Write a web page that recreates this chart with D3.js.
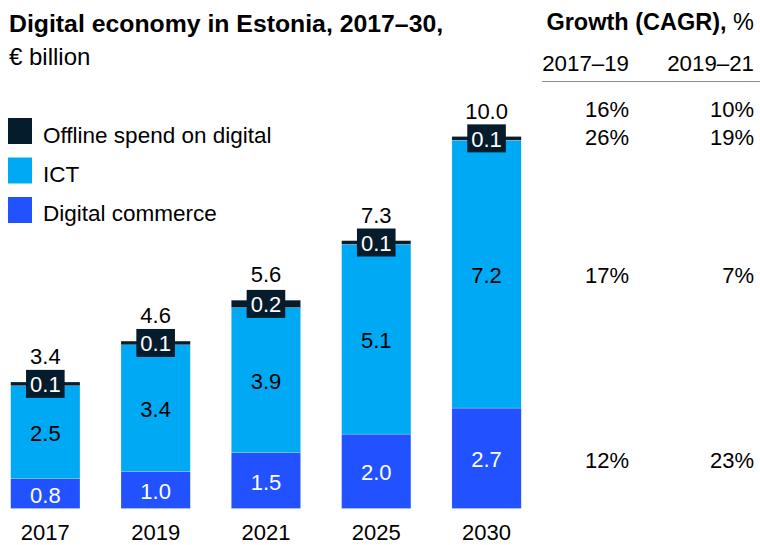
<!DOCTYPE html>
<html>
<head>
<meta charset="utf-8">
<script src="https://cdn.jsdelivr.net/npm/d3@7"></script>
<style>
  html, body { margin: 0; padding: 0; background: #fff; }
  svg { display: block; font-family: "Liberation Sans", Arial, sans-serif; }
</style>
</head>
<body>
<svg id="chart" width="760" height="545"></svg>
<script>
// Digital economy in Estonia, € billion
const years = ["2017", "2019", "2021", "2025", "2030"];
const digitalCommerce = [0.8, 1.0, 1.5, 2.0, 2.7];
const ict = [2.5, 3.4, 3.9, 5.1, 7.2];
const offline = [0.1, 0.1, 0.2, 0.1, 0.1];
const totals = [3.4, 4.6, 5.6, 7.3, 10.0];

// Growth (CAGR) rows: total, offline, ICT, digital commerce
const cagrPeriods = ["2017–19", "2019–21"];
const cagrTotal = ["16%", "10%"];
const cagrOffline = ["26%", "19%"];
const cagrIct = ["17%", "7%"];
const cagrCommerce = ["12%", "23%"];

const seriesNames = ["Offline spend on digital", "ICT", "Digital commerce"];
const colors = { offline: "#051C2C", ict: "#00A9F4", commerce: "#2251FF" };

const svg = d3.select("#chart");

const rows = years.map((y, i) => ({
  year: y, commerce: digitalCommerce[i], ict: ict[i], offline: offline[i], total: totals[i]
}));
const keys = ["commerce", "ict", "offline"];
const stacked = d3.stack().keys(keys)(rows);

const x = d3.scaleBand().domain(years).range([10.7, 521.2]).paddingInner(0.372).paddingOuter(0);
const y = d3.scaleLinear().domain([0, 10]).range([508.5, 136.5]);

const numFont = 22;

// Title
svg.append("text").attr("x", 9).attr("y", 32)
  .style("font-size", "24.8px").style("font-weight", "bold").attr("fill", "#000")
  .text("Digital economy in Estonia, 2017–30,");
svg.append("text").attr("x", 9).attr("y", 65)
  .style("font-size", "24px").attr("fill", "#000").text("€ billion");

// Legend
const legendKeys = ["offline", "ict", "commerce"];
const legend = svg.append("g");
legendKeys.forEach((k, i) => {
  legend.append("rect").attr("x", 8).attr("y", 118 + i * 39.5).attr("width", 24).attr("height", 26)
    .attr("fill", colors[k]);
  legend.append("text").attr("x", 43).attr("y", 142.5 + i * 39.2)
    .style("font-size", "22.5px").attr("fill", "#000").text(seriesNames[i]);
});

// Bars
const layers = svg.append("g").selectAll("g").data(stacked).join("g")
  .attr("fill", d => colors[d.key]);
layers.selectAll("rect").data(d => d).join("rect")
  .attr("x", d => x(d.data.year))
  .attr("width", x.bandwidth())
  .attr("y", d => y(d[1]))
  .attr("height", d => y(d[0]) - y(d[1]))
  .attr("stroke", "#ffffff").attr("stroke-width", 0.4).attr("stroke-opacity", 0.5);

// Segment labels for commerce and ICT
["commerce", "ict"].forEach(k => {
  const layer = stacked.find(s => s.key === k);
  svg.append("g").selectAll("text").data(layer).join("text")
    .attr("x", d => x(d.data.year) + x.bandwidth() / 2)
    .attr("y", d => (y(d[0]) + y(d[1])) / 2 + 9)
    .attr("text-anchor", "middle")
    .style("font-size", numFont + "px")
    .attr("fill", k === "commerce" ? "#fff" : "#000")
    .text(d => d.data[k].toFixed(1));
});

// Offline labels in dark boxes straddling the thin top segment
const offLayer = stacked.find(s => s.key === "offline");
const offG = svg.append("g").selectAll("g").data(offLayer).join("g")
  .attr("transform", d => `translate(${x(d.data.year) + x.bandwidth() / 2},${(y(d[0]) + y(d[1])) / 2})`);
const boxes = offG.append("rect").attr("fill", colors.offline);
const offText = offG.append("text").attr("y", 8.5).attr("text-anchor", "middle")
  .style("font-size", numFont + "px").attr("fill", "#fff")
  .text(d => d.data.offline.toFixed(1));
offText.each(function(d, i) {
  const w = this.getComputedTextLength() + 8;
  d3.select(boxes.nodes()[i]).attr("x", -w / 2).attr("y", -14).attr("width", w).attr("height", 28);
});

// Totals above each bar
svg.append("g").selectAll("text").data(offLayer).join("text")
  .attr("x", d => x(d.data.year) + x.bandwidth() / 2)
  .attr("y", d => y(d[1]) - 18)
  .attr("text-anchor", "middle")
  .style("font-size", numFont + "px").attr("fill", "#000")
  .text(d => d.data.total.toFixed(1));

// Year axis labels
const xAxis = d3.axisBottom(x).tickSize(0).tickPadding(0);
const axG = svg.append("g").attr("transform", "translate(0,524)").call(xAxis);
axG.select(".domain").remove();
axG.selectAll("text").style("font-size", numFont + "px").attr("fill", "#000")
  .attr("dy", "0").attr("y", 16).style("font-family", "inherit");

// Growth (CAGR) panel
const gTitle = svg.append("text").attr("x", 754).attr("y", 30).attr("text-anchor", "end")
  .style("font-size", "23.5px").attr("fill", "#000");
gTitle.append("tspan").style("font-weight", "bold").text("Growth (CAGR),");
gTitle.append("tspan").text(" %");

const colRight = [629, 754];
cagrPeriods.forEach((p, i) => {
  svg.append("text").attr("x", colRight[i]).attr("y", 71).attr("text-anchor", "end")
    .style("font-size", "22.3px").attr("fill", "#000").text(p);
});
svg.append("line").attr("x1", 542).attr("x2", 760).attr("y1", 81.5).attr("y2", 81.5)
  .attr("stroke", "#8c8c8c").attr("stroke-width", 1);

// Row positions follow the 2030 bar's segments
const last = years.length - 1;
const rowY = [
  y(stacked[2][last][1]) - 20,
  (y(stacked[2][last][0]) + y(stacked[2][last][1])) / 2 + 7,
  (y(stacked[1][last][0]) + y(stacked[1][last][1])) / 2 + 9,
  (y(stacked[0][last][0]) + y(stacked[0][last][1])) / 2 + 10
];
const cagrRows = [cagrTotal, cagrOffline, cagrIct, cagrCommerce];
cagrRows.forEach((vals, r) => {
  vals.forEach((v, c) => {
    svg.append("text").attr("x", colRight[c]).attr("y", rowY[r]).attr("text-anchor", "end")
      .style("font-size", numFont + "px").attr("fill", "#000").text(v);
  });
});
</script>
</body>
</html>
